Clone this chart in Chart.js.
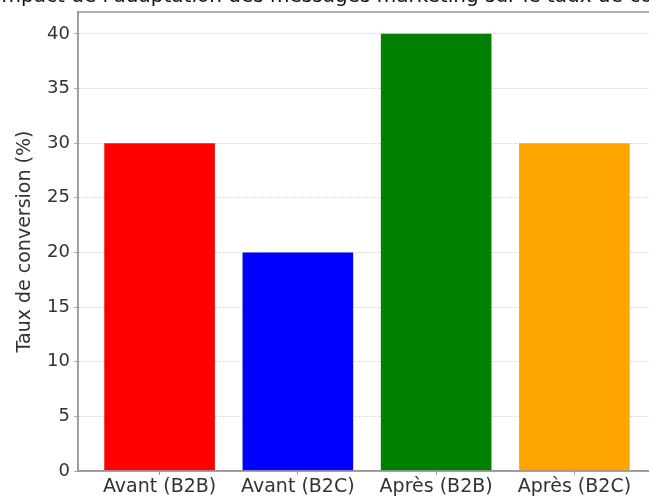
<!DOCTYPE html>
<html><head><meta charset="utf-8">
<script src="https://cdn.jsdelivr.net/npm/chart.js@4/dist/chart.umd.min.js"></script>
<style>
html,body{margin:0;padding:0;overflow:hidden;background:#fff;width:649px;height:497px;}
#wrap{position:absolute;left:0;top:-20px;width:720px;height:520px;}
</style></head><body>
<div id="wrap"><canvas id="c" width="720" height="520"></canvas></div>
<script>
const titleText = "Impact de l'adaptation des messages marketing sur le taux de conversion";
const categories = ["Avant (B2B)", "Avant (B2C)", "Après (B2B)", "Après (B2C)"];
const values = [30, 20, 40, 30];
const colors = ["#ff0000", "#0000ff", "#008000", "#ffa500"];
const yTicks = [0, 5, 10, 15, 20, 25, 30, 35, 40];
const yTitle = "Taux de conversion (%)";

const FONT = "'DejaVu Sans', sans-serif";
const TXT = "#333333";

const framePlugin = {
  id: 'frame',
  afterDraw(chart) {
    const {ctx, chartArea: a} = chart;
    ctx.save();
    ctx.strokeStyle = '#999999';
    ctx.lineWidth = 1.5;
    ctx.strokeRect(a.left, a.top, a.right - a.left, a.bottom - a.top);
    ctx.fillStyle = '#111';
    ctx.font = "20px " + FONT;
    ctx.textAlign = 'center';
    ctx.textBaseline = 'alphabetic';
    ctx.fillText(titleText, (a.left + a.right) / 2, 22);
    ctx.restore();
  }
};

new Chart(document.getElementById('c'), {
  type: 'bar',
  data: {
    datasets: [{
      data: categories.map((c, i) => ({x: i, y: values[i]})),
      backgroundColor: colors,
      borderWidth: 0,
      barPercentage: 0.8,
      categoryPercentage: 1.0
    }]
  },
  options: {
    responsive: false,
    animation: false,
    layout: {padding: {left: 0, top: 32, right: 64, bottom: 0}},
    plugins: {legend: {display: false}, tooltip: {enabled: false}, title: {display: false}},
    scales: {
      x: {
        type: 'linear',
        offset: false,
        min: -0.59, max: 3.59,
        afterBuildTicks(s) { s.ticks = categories.map((c, i) => ({value: i})); },
        afterFit(s) { s.height = 29; },
        ticks: {
          callback: (v) => categories[v],
          font: {family: FONT, size: 19}, color: TXT, padding: 1, maxRotation: 0, autoSkip: false
        },
        grid: {display: true, offset: false, drawOnChartArea: false, drawTicks: true, tickLength: 4, color: '#999'},
        border: {display: true, color: '#999', width: 1.5}
      },
      y: {
        type: 'linear',
        min: 0, max: 42,
        afterBuildTicks(s) { s.ticks = yTicks.map(v => ({value: v})); },
        afterFit(s) { s.width = 78; },
        ticks: {font: {family: FONT, size: 18}, color: TXT, padding: 4},
        title: {display: true, text: yTitle, font: {family: FONT, size: 19}, color: TXT, padding: {top: 14, bottom: 2}},
        grid: {display: true, color: '#c8c8c8', lineWidth: 0.8, tickLength: 4, drawTicks: true,
               tickColor: '#999', tickBorderDash: []},
        border: {display: true, color: '#999', width: 1.5, dash: [2, 2]}
      }
    }
  },
  plugins: [framePlugin]
});
</script>
</body></html>
